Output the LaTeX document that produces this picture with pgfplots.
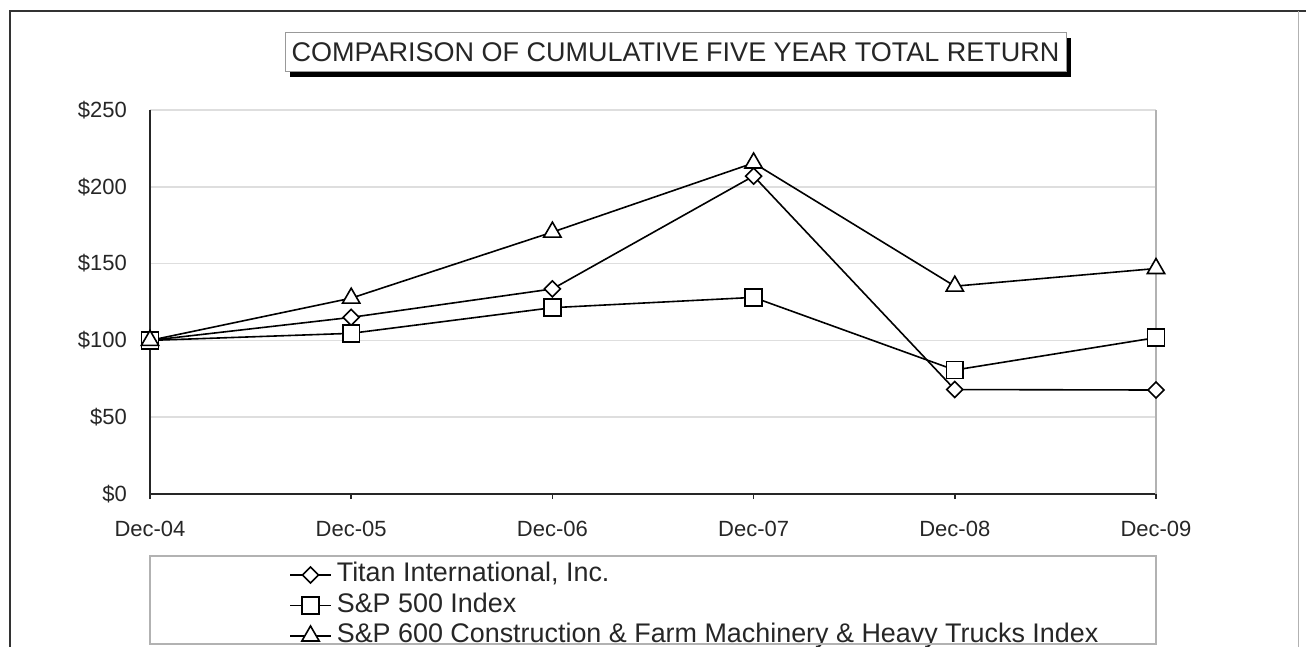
\documentclass[border=0pt]{standalone}
\usepackage{fontspec}
\setmainfont{Liberation Sans}
\usepackage{pgfplots}
\pgfplotsset{compat=1.18}
\usetikzlibrary{calc}

\begin{document}
\begin{tikzpicture}[x=1pt,y=1pt]
\begin{axis}[
  scale only axis, width=503pt, height=192pt,
  xmin=0, xmax=5, ymin=0, ymax=250,
  clip=false,
  axis x line*=bottom, axis y line*=left,
  axis line style={-, black!85, line width=1pt},
  xtick={0,...,5},
  xticklabels={Dec-04,Dec-05,Dec-06,Dec-07,Dec-08,Dec-09},
  ytick={0,50,...,250},
  yticklabels={\$0,\$50,\$100,\$150,\$200,\$250},
  tick align=outside, major tick length=2.5pt,
  xtick style={black!85, line width=0.8pt},
  ytick style={draw=none},
  ymajorgrids, major grid style={black!13, line width=0.8pt},
  ticklabel style={font=\fontsize{11}{13}\selectfont, text=black!85},
  yticklabel style={xshift=-5.5pt},
  xticklabel style={yshift=-7.3pt},
  every axis plot/.append style={black, line width=0.8pt, mark options={fill=white, solid}},
  legend image code/.code={\draw[mark repeat=2,mark phase=2] plot coordinates {(0pt,0pt)(10.25pt,0pt)(20.5pt,0pt)};},
  legend cell align=left,
  legend style={at={(0.138,-0.176)}, anchor=north west, draw=none, fill=none,
    inner sep=0pt, font=\fontsize{13.45}{15}\selectfont, text=black!85,
    row sep=2.25pt, column sep=2.5pt,
    nodes={inner sep=0pt, text height=10pt, text depth=3pt}},
]
\coordinate (O) at (rel axis cs:0,0);
\draw[black!30, line width=0.6pt] (rel axis cs:1,0) -- (rel axis cs:1,1);

\addplot[mark=square*, mark size=2.83pt, mark options={rotate=45, fill=white, solid}] coordinates {
(0,100) (1,115) (2,133.5) (3,207) (4,68) (5,67.7)
};
\addlegendentry{Titan International, Inc.}

\addplot[mark=square*, mark size=4.2pt] coordinates {
(0,100) (1,104.6) (2,121.3) (3,128) (4,80.7) (5,101.8)
};
\addlegendentry{S\&P 500 Index}

\addplot[mark=triangle*, mark size=5pt] coordinates {
(0,100) (1,127.5) (2,170.5) (3,215.5) (4,135.3) (5,146.8)
};
\addlegendentry{S\&P 600 Construction \& Farm Machinery \& Heavy Trucks Index}
\end{axis}

\pgfresetboundingbox
\begin{scope}[shift={($(O)+(-75,-76.5)$)}]
\useasboundingbox (0,0) rectangle (653,323.5);
% outer frame
\draw[black!80, line width=1.3pt] (5,0) -- (5,318) -- (653,318);
\draw[black!30, line width=0.5pt] (649,318) -- (649,0);
% title box with shadow
\fill[black] (145,285) rectangle (535.5,304.5);
\draw[black!40, fill=white, line width=0.5pt] (142.5,287.5) rectangle (533,307);
\node[font=\fontsize{13.5}{15}\selectfont, text=black!85] at (337.75,297.25) {COMPARISON OF CUMULATIVE FIVE YEAR TOTAL RETURN};
% legend frame
\draw[black!30, line width=0.6pt] (75,1.5) rectangle (578,45.5);
\end{scope}
\end{tikzpicture}
\end{document}
